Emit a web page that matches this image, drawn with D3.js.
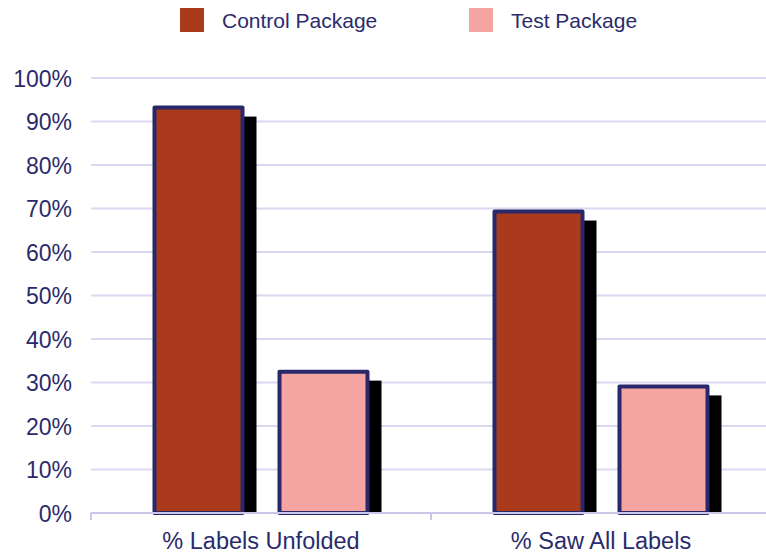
<!DOCTYPE html>
<html>
<head>
<meta charset="utf-8">
<script src="https://cdn.jsdelivr.net/npm/d3@7"></script>
<style>
  html, body { margin: 0; padding: 0; background: #ffffff; }
  svg { display: block; font-family: "Liberation Sans", Arial, sans-serif; }
</style>
</head>
<body>
<svg id="chart" width="766" height="554"></svg>
<script>
// Chart data
const categories = ["% Labels Unfolded", "% Saw All Labels"];
const seriesNames = ["Control Package", "Test Package"];
const controlValues = [93.2, 69.3];
const testValues = [32.5, 29.1];
const yTicks = [0, 10, 20, 30, 40, 50, 60, 70, 80, 90, 100];

const colors = { "Control Package": "#ab3a1c", "Test Package": "#f4a4a1" };
const textColor = "#2b2b6b";
const outline = "#29286a";
const gridColor = "#d9d8f0";
const sw = 4; // bar outline width

const svg = d3.select("#chart");
const margin = { left: 91, right: -5, top: 78, bottom: 41 };
const W = 766, H = 554;
const plotL = margin.left, plotR = W - margin.right;
const plotT = margin.top, plotB = H - margin.bottom;

const x0 = d3.scaleBand().domain(categories).range([plotL, plotR]).padding(0);
const x1 = d3.scaleBand().domain(seriesNames)
  .range([61.5, x0.bandwidth() - 61.5]).paddingInner(0.264).paddingOuter(0);
const y = d3.scaleLinear().domain([0, 100]).range([plotB, plotT]);

const rows = categories.map((c, i) => ({
  category: c,
  values: [
    { series: seriesNames[0], value: controlValues[i] },
    { series: seriesNames[1], value: testValues[i] }
  ]
}));

// Horizontal gridlines
svg.append("g")
  .selectAll("line")
  .data(yTicks.filter(t => t > 0))
  .join("line")
  .attr("x1", plotL).attr("x2", plotR)
  .attr("y1", d => y(d)).attr("y2", d => y(d))
  .attr("stroke", gridColor).attr("stroke-width", 2);

// Y axis labels
const yAxis = d3.axisLeft(y).tickValues(yTicks).tickFormat(d => d + "%").tickSize(0).tickPadding(19);
const yg = svg.append("g").attr("transform", `translate(${plotL},0)`).call(yAxis);
yg.select(".domain").remove();
yg.selectAll("text")
  .attr("fill", textColor)
  .style("font-size", "23px")
  .attr("dy", "0.36em");

// Bars with drop shadows
const groups = svg.append("g")
  .selectAll("g")
  .data(rows)
  .join("g")
  .attr("transform", d => `translate(${x0(d.category)},0)`);

groups.selectAll("rect.shadow")
  .data(d => d.values)
  .join("rect")
  .attr("class", "shadow")
  .attr("x", d => x1(d.series) + 12)
  .attr("y", d => y(d.value) - sw / 2 + 11)
  .attr("width", x1.bandwidth())
  .attr("height", d => plotB - (y(d.value) - sw / 2 + 11))
  .attr("fill", "#000000");

groups.selectAll("rect.bar")
  .data(d => d.values)
  .join("rect")
  .attr("class", "bar")
  .attr("x", d => x1(d.series) + sw / 2)
  .attr("y", d => y(d.value))
  .attr("width", x1.bandwidth() - sw)
  .attr("height", d => plotB - y(d.value))
  .attr("fill", d => colors[d.series])
  .attr("stroke", outline)
  .attr("stroke-width", sw)
  .attr("stroke-linejoin", "round");

// X axis baseline and category ticks
const xAxis = d3.axisBottom(x0).tickSize(0).tickPadding(0);
svg.append("line")
  .attr("x1", plotL).attr("x2", plotR)
  .attr("y1", plotB).attr("y2", plotB)
  .attr("stroke", "#c9c8ea").attr("stroke-width", 2);
svg.append("g")
  .selectAll("line")
  .data(categories.concat([null]))
  .join("line")
  .attr("x1", (d, i) => plotL + i * x0.step())
  .attr("x2", (d, i) => plotL + i * x0.step())
  .attr("y1", plotB).attr("y2", plotB + 7)
  .attr("stroke", "#c9c8ea").attr("stroke-width", 2);

const xg = svg.append("g").attr("transform", `translate(0,${plotB})`).call(xAxis);
xg.select(".domain").remove();
xg.selectAll("text")
  .attr("fill", textColor)
  .style("font-size", "23.5px")
  .attr("y", 36)
  .attr("dy", 0);

// Legend
const legend = svg.append("g");
const legendX = [180, 469];
seriesNames.forEach((s, i) => {
  legend.append("rect")
    .attr("x", legendX[i]).attr("y", 8)
    .attr("width", 24).attr("height", 24)
    .attr("fill", colors[s]);
  legend.append("text")
    .attr("x", legendX[i] + 42).attr("y", 27.5)
    .attr("fill", textColor)
    .style("font-size", "21px")
    .text(s);
});
</script>
</body>
</html>
